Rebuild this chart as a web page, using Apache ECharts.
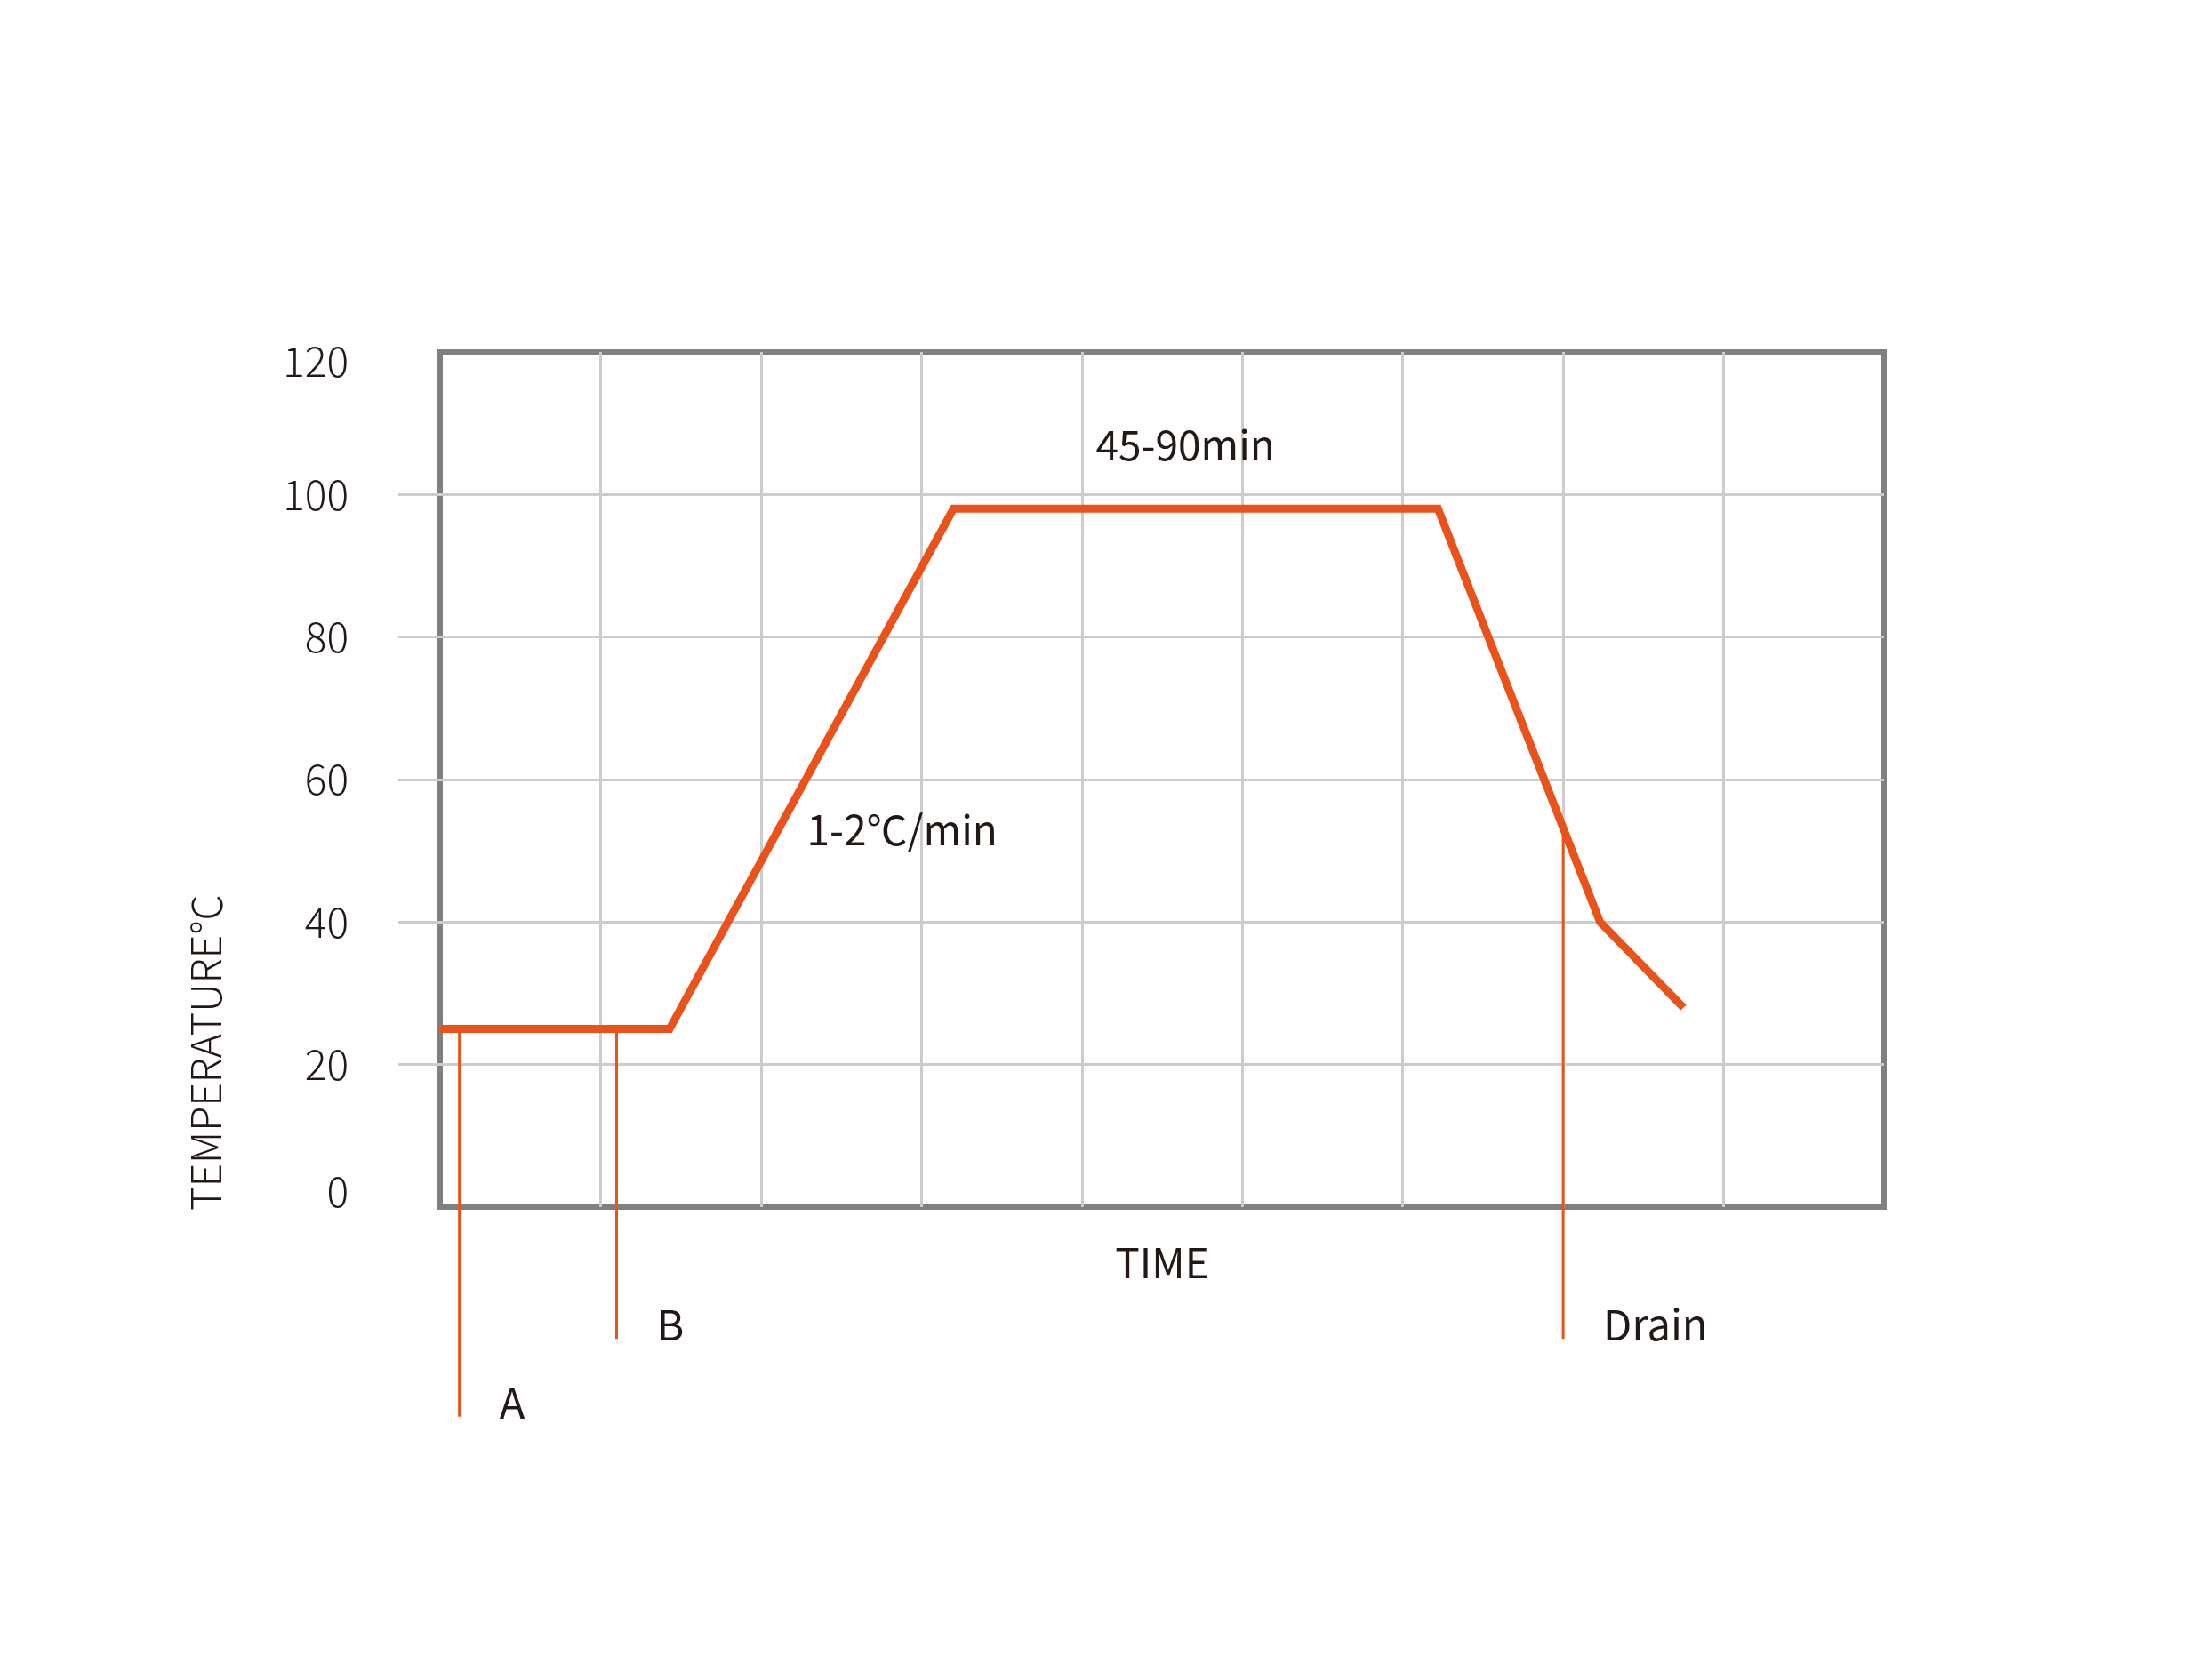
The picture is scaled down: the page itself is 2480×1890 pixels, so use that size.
<!DOCTYPE html>
<html>
<head>
<meta charset="utf-8">
<script src="https://cdn.jsdelivr.net/npm/echarts@6/dist/echarts.min.js"></script>
<style>
  html, body { margin: 0; padding: 0; background: #ffffff; }
  #chart { width: 2480px; height: 1890px; }
</style>
</head>
<body>
<div id="chart"></div>
<script>
// ---- data ----
const yTicks = [0, 20, 40, 60, 80, 100, 120];
const timeDivisions = [0, 1, 2, 3, 4, 5, 6, 7, 8, 9];
const curveX = [0, 1.43, 3.2, 6.22, 7.23, 7.75];
const curveY = [25, 25, 98, 98, 40, 28];
const markerNames = ['A', 'B', 'Drain'];
const markerX = [0.12, 1.10, 7.0];
const markerTop = [25, 25, 52];
const markerBottom = [-29.4, -18.5, -18.5];
const noteTexts = ['45-90min', '1-2℃/min'];
const noteX = [4.645, 2.88];
const noteY = [107.0, 52.9];
const xTitle = 'TIME';
const yTitle = 'TEMPERATURE℃';

// ---- style ----
const ORANGE = '#E9531B';
const GRID = '#cccccc';
const BORDER = '#808080';
const TEXT = '#231815';
const FONT = '"Noto Sans CJK SC", "Noto Sans", sans-serif';

const chart = echarts.init(document.getElementById('chart'), null, { renderer: 'canvas' });

const curveData = curveX.map((x, i) => [x, curveY[i]]);

const markerSeries = markerNames.map((name, i) => ({
  type: 'line',
  xAxisIndex: 0, yAxisIndex: 0,
  clip: false,
  symbol: 'none',
  silent: true,
  z: 3,
  lineStyle: { color: ORANGE, width: 3 },
  data: [[markerX[i], markerTop[i]], [markerX[i], markerBottom[i]]]
}));

const tickMin = yTicks[0];
const tickMax = yTicks[yTicks.length - 1];

const option = {
  backgroundColor: '#ffffff',
  animation: false,
  grid: [
    {
      left: 495, right: 2480 - 2119, top: 396, bottom: 1890 - 1358,
      show: true, borderColor: BORDER, borderWidth: 6, backgroundColor: 'transparent',
      containLabel: false
    },
    {
      left: 448, width: 47, top: 396, bottom: 1890 - 1358,
      show: false, containLabel: false
    }
  ],
  xAxis: [
    {
      type: 'value', gridIndex: 0,
      min: timeDivisions[0], max: timeDivisions[timeDivisions.length - 1], interval: 1,
      axisLine: { show: false }, axisTick: { show: false }, axisLabel: { show: false },
      splitLine: { show: true, showMinLine: false, showMaxLine: false, lineStyle: { color: GRID, width: 3 } },
      name: xTitle, nameLocation: 'middle', nameGap: 40,
      nameTextStyle: { color: TEXT, fontSize: 46, fontFamily: FONT, verticalAlign: 'top' }
    },
    {
      type: 'value', gridIndex: 1, min: 0, max: 1, show: false
    }
  ],
  yAxis: [
    {
      type: 'value', gridIndex: 0,
      min: tickMin, max: tickMax, interval: 20,
      axisLine: { show: false }, axisTick: { show: false },
      axisLabel: {
        show: true, margin: 103, color: TEXT, fontSize: 46, fontWeight: 300, fontFamily: FONT,
        formatter: v => {
          if (!yTicks.includes(v)) return '';
          if (v === tickMax) return '{top|' + v + '}';
          if (v === tickMin) return '{bot|' + v + '}';
          return String(v);
        },
        rich: {
          top: { color: TEXT, fontSize: 46, fontWeight: 300, fontFamily: FONT, padding: [22, 0, 0, 0] },
          bot: { color: TEXT, fontSize: 46, fontWeight: 300, fontFamily: FONT, padding: [0, 0, 34, 0] }
        }
      },
      splitLine: { show: true, showMinLine: false, showMaxLine: false, lineStyle: { color: GRID, width: 3 } }
    },
    {
      type: 'value', gridIndex: 1,
      min: tickMin, max: tickMax, interval: 20,
      axisLine: { show: false }, axisTick: { show: false }, axisLabel: { show: false },
      splitLine: { show: true, showMinLine: false, showMaxLine: false, lineStyle: { color: GRID, width: 3 } }
    }
  ],
  graphic: [
    {
      type: 'text',
      x: 232, y: 1184,
      rotation: Math.PI / 2,
      style: {
        text: yTitle, fill: TEXT, fontSize: 46, fontWeight: 300, fontFamily: FONT,
        align: 'center', verticalAlign: 'middle'
      }
    }
  ],
  series: [
    {
      type: 'line',
      xAxisIndex: 0, yAxisIndex: 0,
      data: curveData,
      symbol: 'none',
      silent: true,
      z: 4,
      lineStyle: { color: ORANGE, width: 9, join: 'miter' }
    },
    ...markerSeries,
    {
      type: 'scatter',
      xAxisIndex: 0, yAxisIndex: 0,
      clip: false,
      symbolSize: 0,
      silent: true,
      z: 5,
      itemStyle: { opacity: 1 },
      data: markerNames.map((n, i) => ({ name: n, value: [markerX[i], markerBottom[i]] })),
      label: {
        show: true, position: 'right', distance: 45, offset: [0, -16], formatter: '{b}',
        color: TEXT, fontSize: 47, fontFamily: FONT
      }
    },
    {
      type: 'scatter',
      xAxisIndex: 0, yAxisIndex: 0,
      symbolSize: 0,
      silent: true,
      z: 5,
      itemStyle: { opacity: 1 },
      data: noteTexts.map((t, i) => ({ name: t, value: [noteX[i], noteY[i]] })),
      label: {
        show: true, position: 'inside', formatter: '{b}',
        color: TEXT, fontSize: 46, fontFamily: FONT
      }
    }
  ]
};

chart.setOption(option);
</script>
</body>
</html>
